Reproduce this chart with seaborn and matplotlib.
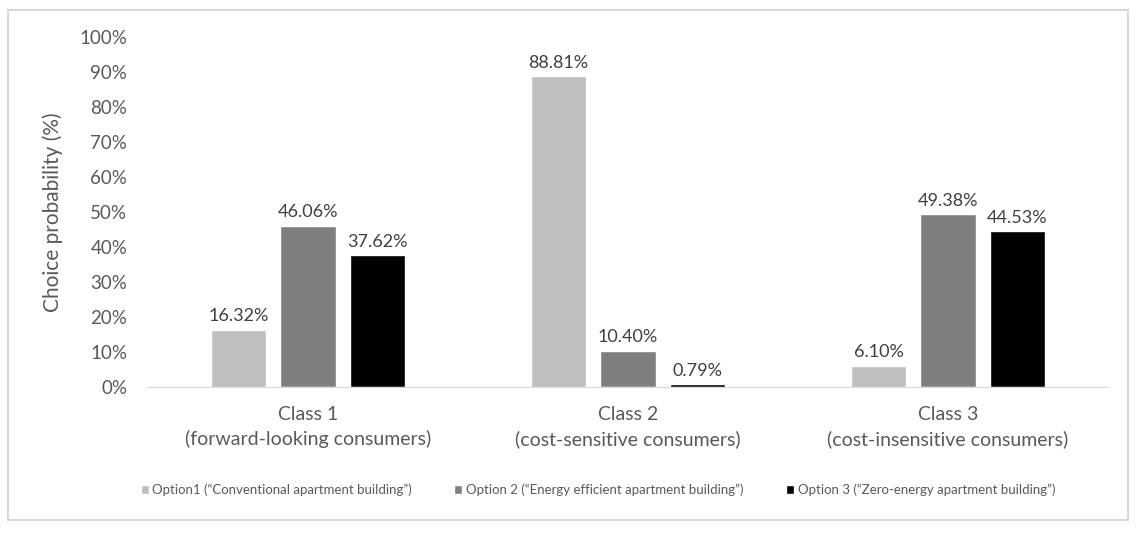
import numpy as np
import pandas as pd
import seaborn as sns
import matplotlib.pyplot as plt
from matplotlib.patches import Rectangle
from matplotlib.ticker import PercentFormatter

# chart values
classes = ['Class 1\n(forward-looking consumers)',
           'Class 2\n(cost-sensitive consumers)',
           'Class 3\n(cost-insensitive consumers)']
options = ['Option1 (\u201cConventional apartment building\u201d)',
           'Option 2 (\u201cEnergy efficient apartment building\u201d)',
           'Option 3 (\u201cZero-energy apartment building\u201d)']
option1 = [16.32, 88.81, 6.10]
option2 = [46.06, 10.40, 49.38]
option3 = [37.62, 0.79, 44.53]
colors = ['#bfbfbf', '#7f7f7f', '#000000']

df = pd.DataFrame({
    'Class': classes * 3,
    'Option': [options[0]] * 3 + [options[1]] * 3 + [options[2]] * 3,
    'Prob': option1 + option2 + option3,
})

sns.set_style('white')
plt.rcParams['font.family'] = ['Lato', 'DejaVu Sans']
txt = '#595959'

fig = plt.figure(figsize=(11.38, 5.4), dpi=100)
ax = fig.add_axes([148 / 1138, 153 / 540, 960 / 1138, 350 / 540])

sns.barplot(data=df, x='Class', y='Prob', hue='Option', palette=colors,
            width=0.65, gap=0.2, ax=ax, saturation=1, errorbar=None)

# value labels
for cont in ax.containers:
    ax.bar_label(cont, labels=[f'{v:.2f}%' for v in cont.datavalues],
                 padding=4, fontsize=13, color='#404040')

ax.set_ylim(0, 100)
ax.set_yticks(np.arange(0, 101, 10))
ax.yaxis.set_major_formatter(PercentFormatter(decimals=0))
ax.set_xlabel('')
ax.set_ylabel('Choice probability (%)', fontsize=15, color=txt, labelpad=12)
ax.tick_params(axis='y', length=0, labelsize=13.5, colors=txt, pad=15)
ax.tick_params(axis='x', length=0, pad=14, labelsize=14, colors=txt)
for lab in ax.get_xticklabels():
    lab.set_linespacing(1.45)
for s in ['top', 'right', 'left']:
    ax.spines[s].set_visible(False)
ax.spines['bottom'].set_color('#d9d9d9')

# legend at the bottom
handles, labels = ax.get_legend_handles_labels()
ax.legend_.remove()
fig.legend(handles, labels, loc='center', ncol=3, frameon=False,
           bbox_to_anchor=(598 / 1138, 50 / 540), fontsize=9.5,
           handlelength=0.6, handleheight=0.6, handletextpad=0.3,
           columnspacing=3.2, labelcolor=txt)

# chart border
fig.patches.append(Rectangle((8 / 1138, 20 / 540), 1120 / 1138, 510 / 540,
                             transform=fig.transFigure, fill=False,
                             edgecolor='#d9d9d9', linewidth=1.5))

fig.savefig('out.png', dpi=100)
